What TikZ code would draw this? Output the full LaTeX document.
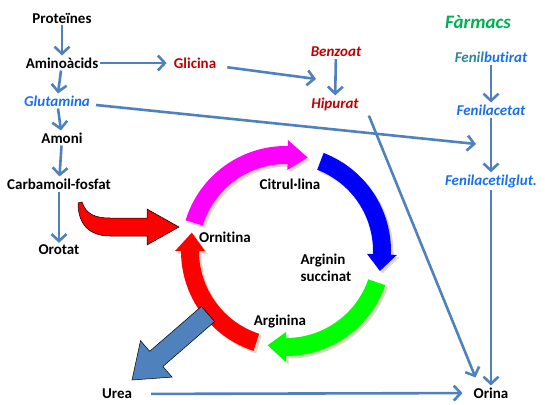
\documentclass[tikz,border=0pt]{standalone}
\usepackage{fontspec}
\setmainfont{Carlito}[Ligatures=NoCommon]
\usepackage[HTML]{xcolor}
\usepackage{tikz}
\usetikzlibrary{positioning, arrows.meta}

\definecolor{flowblue}{HTML}{4F81BD}
\definecolor{molred}{HTML}{C00000}
\definecolor{drugblue}{HTML}{1A6FF0}
\definecolor{drugteal}{HTML}{31859C}
\definecolor{drugsgreen}{HTML}{00B050}
\definecolor{ringshade}{HTML}{DDD9C3}

\begin{document}
\begin{tikzpicture}[x=1pt, y=-1pt, >={Straight Barb[length=7pt,width=15pt]},
    lbl/.style={font=\fontsize{15}{17}\selectfont\bfseries, inner sep=2pt},
    redlbl/.style={lbl, text=molred},
    druglbl/.style={lbl, text=drugblue, font=\fontsize{15}{17}\selectfont\bfseries\itshape},
    flow/.style={->, line width=2.6pt, draw=flowblue},
    ringarrow/.style={preaction={fill=ringshade, transform canvas={xshift=2.5pt, yshift=-2.5pt}}},
    fatarrow/.style={draw=black, line width=0.5pt}]

    \useasboundingbox (0,0) rectangle (545,404);

    % 1. Define Nodes: left column
    \node[lbl] (Prot) at (62,18) {Proteïnes};
    \node[lbl] (Amino) at (62,63) {Aminoàcids};
    \node[druglbl] (Gln) at (57,101) {Glutamina};
    \node[lbl] (Amoni) at (62,138) {Amoni};
    \node[lbl] (Carb) at (59,184) {Carbamoil-fosfat};
    \node[lbl] (Orot) at (59,250) {Orotat};

    % 2. Define Nodes: glycine, benzoate and drugs
    \node[redlbl] (Gly) at (195,63) {Glicina};
    \node[redlbl, font=\fontsize{15}{17}\selectfont\bfseries\itshape] (Benz) at (336,52) {Benzoat};
    \node[redlbl, font=\fontsize{15}{17}\selectfont\bfseries\itshape] (Hip) at (335,104) {Hipurat};
    \node[lbl, text=drugsgreen, font=\fontsize{19}{21}\selectfont\bfseries\itshape] (Farm) at (478,22) {Fàrmacs};
    \node[druglbl] (Fbut) at (491,57) {{\color{drugteal}Fenil}butirat};
    \node[druglbl] (Fac) at (491,110) {Fenilacetat};
    \node[druglbl] (Fag) at (491,181) {Fenilacetilglut.};
    \coordinate (GlyEnd) at (316,79);
    \coordinate (GlnEnd) at (476,144);

    % 3. Define Nodes: cycle and outputs
    \node[lbl] (Citr) at (290,184) {Citrul·lina};
    \node[lbl] (Orn) at (225,237) {Ornitina};
    \node[lbl, align=left] (Succ) at (326,268) {Arginin\\succinat};
    \node[lbl] (Arg) at (280,322) {Arginina};
    \node[lbl] (Urea) at (117,394) {Urea};
    \node[lbl] (Orina) at (491,393) {Orina};

    % 4. Draw the ring of the cycle
    \begin{scope}[shift={(286,251)}, y=1pt]
        \fill[ringarrow, fill=magenta] (163:105) arc[start angle=163, end angle=89, radius=105]
            -- (89:111) -- (77:96) -- (89:81) -- (89:87) arc[start angle=89, end angle=163, radius=87] -- cycle;
        \fill[ringarrow, fill=blue] (69:105) arc[start angle=69, end angle=-2, radius=105]
            -- (-2:111) -- (-12:96) -- (-2:81) -- (-2:87) arc[start angle=-2, end angle=69, radius=87] -- cycle;
        \fill[ringarrow, fill=green] (-19:105) arc[start angle=-19, end angle=-90, radius=105]
            -- (-90:111) -- (-101:96) -- (-90:81) -- (-90:87) arc[start angle=-90, end angle=-19, radius=87] -- cycle;
        \fill[ringarrow, fill=red] (-108:105) arc[start angle=-108, end angle=-180, radius=105]
            -- (-180:111) -- (-191:96) -- (-180:81) -- (-180:87) arc[start angle=-180, end angle=-108, radius=87] -- cycle;
    \end{scope}

    % 5. Fat arrows: carbamoyl phosphate in, urea out
    \filldraw[fatarrow, fill=red] (82,202) .. controls (86,214) and (95,218) .. (110,218) -- (147,218)
        -- (147,209) -- (179,227) -- (147,245) -- (147,236) -- (110,236)
        .. controls (90,236) and (78,225) .. (78,203) -- cycle;
    \filldraw[fatarrow, fill=flowblue] (214.6,321.6) -- (162.9,366.5) -- (172.1,377.1) -- (132,380)
        -- (140.5,340.7) -- (149.7,351.3) -- (201.4,306.4) -- cycle;

    % 6. Draw the thin arrows
    \draw[flow] (Prot) -- (Amino);
    \draw[flow] (Amino) -- (Gln);
    \draw[flow] (Gln) -- (Amoni);
    \draw[flow] (Amoni) -- (Carb);
    \draw[flow] (Carb) -- (Orot);
    \draw[flow, shorten >=5pt] (Amino) -- (Gly);
    \draw[flow, shorten <=9pt] (Gly) -- (GlyEnd);
    \draw[flow] (Benz) -- (Hip);
    \draw[flow, shorten <=4pt] (Gln) -- (GlnEnd);
    \draw[flow] (Fbut) -- (Fac);
    \draw[flow] (Fac) -- (Fag);
    \draw[flow] (Fag) -- (Orina);
    \draw[flow] ([xshift=8pt, yshift=-3pt]Hip.south east) -- ([xshift=4pt, yshift=8pt]Orina.north west);
    \draw[flow, shorten <=17pt, shorten >=9pt] (Urea) -- (Orina);
\end{tikzpicture}
\end{document}
